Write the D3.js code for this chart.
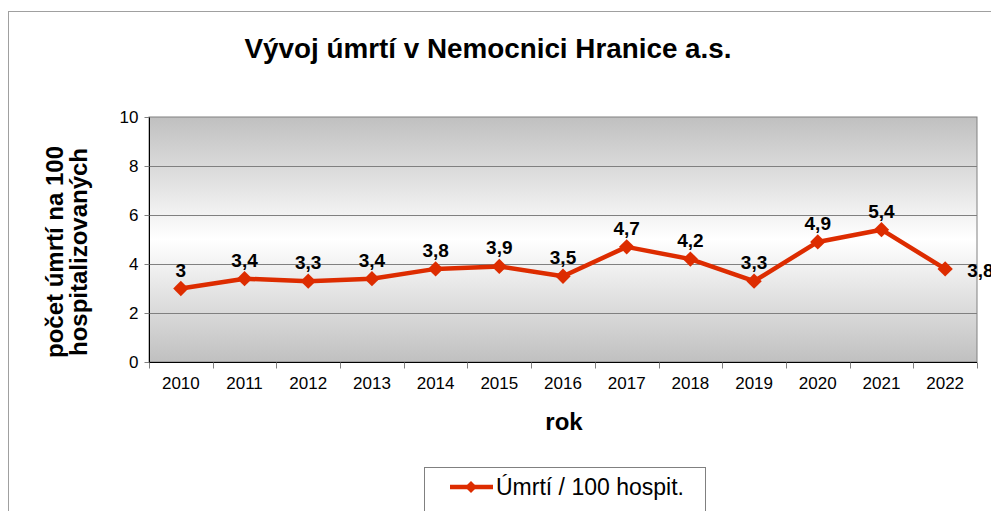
<!DOCTYPE html>
<html>
<head>
<meta charset="utf-8">
<script src="https://cdn.jsdelivr.net/npm/d3@7"></script>
<style>
  body { margin: 0; background: #fff; }
  svg text { font-family: "Liberation Sans", Arial, sans-serif; }
</style>
</head>
<body>
<div class="contain"></div>
<script>
const years = ["2010", "2011", "2012", "2013", "2014", "2015", "2016", "2017", "2018", "2019", "2020", "2021", "2022"];
const deaths = [3, 3.4, 3.3, 3.4, 3.8, 3.9, 3.5, 4.7, 4.2, 3.3, 4.9, 5.4, 3.8];
const yTicks = [0, 2, 4, 6, 8, 10];

const svg_width = 991;
const svg_height = 511;
const plot = { left: 149, right: 977, top: 117, bottom: 362 };
const red = "#dd2c00";

let svg = d3.select(".contain").append("svg")
  .attr("width", svg_width).attr("height", svg_height);

// outer chart frame
svg.append("rect")
  .attr("x", 8.5).attr("y", 11.5)
  .attr("width", 1100).attr("height", 600)
  .attr("fill", "#fff").attr("stroke", "#a0a0a0");

// plot background gradient
let grad = svg.append("defs").append("linearGradient")
  .attr("id", "bg").attr("x1", 0).attr("y1", 0).attr("x2", 0).attr("y2", 1);
grad.append("stop").attr("offset", "0%").attr("stop-color", "#c0c0c0");
grad.append("stop").attr("offset", "50%").attr("stop-color", "#ffffff");
grad.append("stop").attr("offset", "100%").attr("stop-color", "#c0c0c0");

let xScale = d3.scaleBand().domain(years).range([plot.left, plot.right]);
let yScale = d3.scaleLinear().domain([0, 10]).range([plot.bottom, plot.top]);

svg.append("rect")
  .attr("x", plot.left).attr("y", plot.top)
  .attr("width", plot.right - plot.left).attr("height", plot.bottom - plot.top)
  .attr("fill", "url(#bg)").attr("stroke", "#808080");

// gridlines
svg.append("g").selectAll("line")
  .data(yTicks.filter(d => d > 0 && d < 10)).enter().append("line")
  .attr("x1", plot.left).attr("x2", plot.right)
  .attr("y1", d => Math.round(yScale(d)) + 0.5).attr("y2", d => Math.round(yScale(d)) + 0.5)
  .attr("stroke", "#808080");

// y axis
let yAxis = d3.axisLeft(yScale).tickValues(yTicks).tickSize(5).tickPadding(6);
let gy = svg.append("g")
  .attr("transform", `translate(${plot.left + 0.5}, 0)`)
  .call(yAxis);
gy.selectAll("text").attr("font-size", 17).attr("fill", "#000").style("font-family", "Liberation Sans, Arial");
gy.selectAll("line").attr("stroke", "#808080");
gy.select(".domain").attr("stroke", "#000").attr("d", `M0,${plot.top}V${plot.bottom}`);

// x axis
let xAxis = d3.axisBottom(xScale).tickSize(0).tickPadding(14);
let gx = svg.append("g")
  .attr("transform", `translate(0, ${plot.bottom + 0.5})`)
  .call(xAxis);
gx.selectAll("text").attr("font-size", 17).attr("fill", "#000").style("font-family", "Liberation Sans, Arial");
gx.select(".domain").attr("stroke", "#000").attr("d", `M${plot.left},0H${plot.right}`);
gx.selectAll(".sep")
  .data(years.concat(["end"])).enter().append("line")
  .attr("class", "sep")
  .attr("x1", (d, i) => Math.round(plot.left + i * xScale.step()) + 0.5)
  .attr("x2", (d, i) => Math.round(plot.left + i * xScale.step()) + 0.5)
  .attr("y1", 0).attr("y2", 6)
  .attr("stroke", "#808080");

// line series
let cx = d => xScale(d) + xScale.bandwidth() / 2;
let line = d3.line().x((d, i) => cx(years[i])).y(d => yScale(d));
svg.append("path")
  .datum(deaths)
  .attr("d", line)
  .attr("fill", "none").attr("stroke", red).attr("stroke-width", 4.5)
  .attr("stroke-linejoin", "round");

let diamond = d3.symbol().type(d3.symbolDiamond2).size(150);
svg.append("g").selectAll("path")
  .data(deaths).enter().append("path")
  .attr("d", diamond)
  .attr("transform", (d, i) => `translate(${cx(years[i])}, ${yScale(d)})`)
  .attr("fill", red);

// data labels (last one sits to the right of its point, cut by the edge as in the original)
svg.append("g").selectAll("text")
  .data(deaths).enter().append("text")
  .attr("x", (d, i) => i === deaths.length - 1 ? cx(years[i]) + 22 : cx(years[i]))
  .attr("y", (d, i) => i === deaths.length - 1 ? yScale(d) + 8 : yScale(d) - 12)
  .attr("text-anchor", (d, i) => i === deaths.length - 1 ? "start" : "middle")
  .attr("font-size", 19).attr("font-weight", "bold")
  .text(d => String(d).replace(".", ","));

// titles
svg.append("text")
  .attr("x", 488).attr("y", 58)
  .attr("text-anchor", "middle")
  .attr("font-size", 27).attr("font-weight", "bold")
  .attr("textLength", 487).attr("lengthAdjust", "spacingAndGlyphs")
  .text("Vývoj úmrtí v Nemocnici Hranice a.s.");

svg.append("text")
  .attr("x", 564).attr("y", 430)
  .attr("text-anchor", "middle")
  .attr("font-size", 24).attr("font-weight", "bold")
  .text("rok");

let yTitle = svg.append("text")
  .attr("transform", "translate(0, 252) rotate(-90)")
  .attr("text-anchor", "middle")
  .attr("font-size", 24).attr("font-weight", "bold");
yTitle.append("tspan").attr("x", 0).attr("y", 63).text("počet úmrtí na 100");
yTitle.append("tspan").attr("x", 0).attr("y", 87).text("hospitalizovaných");

// legend
let legend = svg.append("g");
legend.append("rect")
  .attr("x", 424.5).attr("y", 467.5).attr("width", 281).attr("height", 60)
  .attr("fill", "#fff").attr("stroke", "#808080");
legend.append("line")
  .attr("x1", 450).attr("x2", 493).attr("y1", 487).attr("y2", 487)
  .attr("stroke", red).attr("stroke-width", 4.5);
legend.append("path")
  .attr("d", d3.symbol().type(d3.symbolDiamond2).size(90))
  .attr("transform", "translate(471, 487)")
  .attr("fill", red);
legend.append("text")
  .attr("x", 496).attr("y", 495)
  .attr("font-size", 23)
  .text("Úmrtí / 100 hospit.");
</script>
</body>
</html>
